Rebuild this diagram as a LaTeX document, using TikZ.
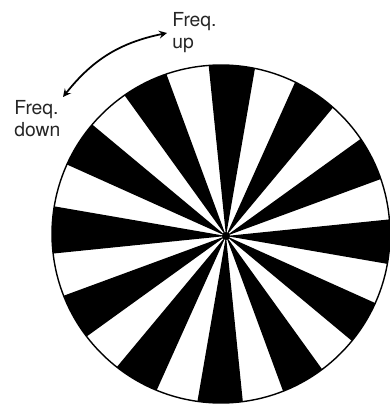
\documentclass[tikz,border=0pt]{standalone}
\usepackage{fontspec}
\setmainfont{TeX Gyre Heros}
\tikzset{
  freqlabel/.style={anchor=north west,align=left,inner sep=0pt,
    text=black!85,font=\fontsize{11}{12.5}\selectfont}
}
\begin{document}
\begin{tikzpicture}[x=0.2mm,y=0.2mm,>=stealth]
    \useasboundingbox (0,0) rectangle (390,410);
    % Centre of the disc and meeting point of the spokes
    \coordinate (O) at (221,176);
    \coordinate (C) at (226,174);

    % Black spokes
    \begin{scope}
    \clip (O) circle (169);
    \foreach \a in {88,58,...,-242}
    \fill[black] (C) -- +(\a-7.8:300) -- +(\a+7.8:300) -- cycle;
    \fill[black] (C) circle (4);
    \end{scope}

    % Rim of the disc
    \draw[line width=0.8pt] (O) circle (169);

    % Labels
    \node[freqlabel] (up) at (172,398) {Freq.\\up};
    \node[freqlabel] (down) at (14,310) {Freq.\\down};

    % Double arrow
    \coordinate (lo) at (63,313);
    \coordinate (hi) at (167,377);
    \draw[<->,line width=1pt] (lo) to[bend left=20] (hi);
\end{tikzpicture}
\end{document}
